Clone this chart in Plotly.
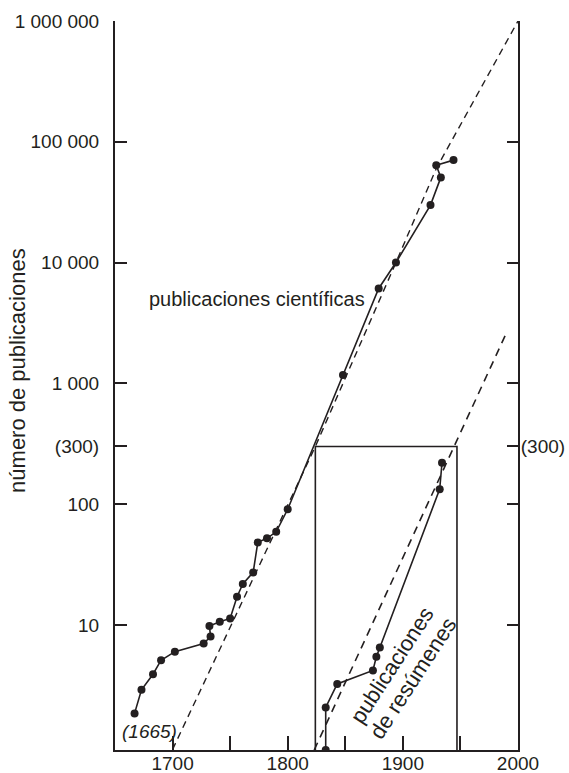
import plotly.graph_objects as go

# --- data ---
sci_years = [1667, 1673, 1683, 1690, 1702, 1727, 1733, 1732, 1741, 1750, 1756, 1761, 1770,
             1774, 1782, 1790, 1800, 1848, 1879, 1894, 1924, 1933, 1929, 1944]
sci_vals = [1.85, 2.9, 3.9, 5.1, 6.0, 7.0, 8.0, 9.8, 10.6, 11.3, 17.1, 21.8, 27.2,
            48.2, 52.1, 59.0, 90.6, 1170, 6100, 10000, 29900, 50700, 64000, 70500]

abs_years = [1833, 1833, 1843, 1874, 1877, 1880, 1932, 1934]
abs_vals = [0.92, 2.07, 3.24, 4.2, 5.45, 6.5, 133, 220]

trend_sci_years = [1700, 1824, 1894, 1929, 2000]
trend_sci_vals = [0.93, 300, 10000, 60000, 1000000]
trend_abs_years = [1823, 1989]
trend_abs_vals = [0.92, 2500]

box_years = [1824, 1947]
box_top = 300
y_floor = 0.92

x_tickvals = [1700, 1750, 1800, 1850, 1900, 1950, 2000]
x_ticktext = ["1700", "", "1800", "", "1900", "", "2000"]
y_tickvals = [10, 100, 300, 1000, 10000, 100000, 1000000]
y_ticktext = ["10", "100", "(300)", "1 000", "10 000", "100 000", "1 000 000"]
y2_ticktext = ["", "", "(300)", "", "", "", ""]

FONT = "Liberation Sans, Arial, Helvetica, sans-serif"
INK = "#231f20"

fig = go.Figure()

# rectangle (inset)
fig.add_trace(go.Scatter(
    x=[box_years[0], box_years[0], box_years[1], box_years[1]],
    y=[y_floor, box_top, box_top, y_floor],
    mode="lines", line=dict(color=INK, width=1.6), hoverinfo="skip"))

# trend lines
fig.add_trace(go.Scatter(x=trend_sci_years, y=trend_sci_vals, mode="lines",
                         line=dict(color=INK, width=1.4, dash="7px,5px"), hoverinfo="skip"))
fig.add_trace(go.Scatter(x=trend_abs_years, y=trend_abs_vals, mode="lines",
                         line=dict(color=INK, width=1.6, dash="8px,6px"), hoverinfo="skip"))

# data series
fig.add_trace(go.Scatter(x=sci_years, y=sci_vals, mode="lines+markers",
                         line=dict(color=INK, width=1.6),
                         marker=dict(color=INK, size=8)))
fig.add_trace(go.Scatter(x=abs_years, y=abs_vals, mode="lines+markers",
                         line=dict(color=INK, width=1.6),
                         marker=dict(color=INK, size=8)))

# dummy trace to activate the right axis
fig.add_trace(go.Scatter(x=[1800], y=[10], yaxis="y2", mode="markers",
                         marker=dict(opacity=0), hoverinfo="skip"))

fig.update_layout(
    width=569, height=773,
    margin=dict(l=115, r=51, t=21, b=23),
    paper_bgcolor="white", plot_bgcolor="white",
    showlegend=False,
    font=dict(family=FONT, size=19, color=INK),
    xaxis=dict(range=[1650, 2000], showgrid=False, zeroline=False, automargin=False,
               showline=True, linecolor=INK, linewidth=2,
               ticks="inside", ticklen=14, tickwidth=1.6, tickcolor=INK,
               tickvals=x_tickvals, ticktext=x_ticktext,
               tickfont=dict(size=19, family=FONT, color=INK), ticklabelstandoff=-5),
    yaxis=dict(type="log", range=[-0.036, 6], showgrid=False, zeroline=False, automargin=False,
               showline=True, linecolor=INK, linewidth=2,
               ticks="inside", ticklen=12, tickwidth=1.6, tickcolor=INK,
               tickvals=y_tickvals, ticktext=y_ticktext,
               tickfont=dict(size=19, family=FONT, color=INK), ticklabelstandoff=10),
    yaxis2=dict(type="log", range=[-0.036, 6], overlaying="y", side="right",
                showgrid=False, zeroline=False, automargin=False,
                showline=True, linecolor=INK, linewidth=2,
                ticks="inside", ticklen=11, tickwidth=1.6, tickcolor=INK,
                tickvals=y_tickvals, ticktext=y2_ticktext,
                tickfont=dict(size=19, family=FONT, color=INK), ticklabelstandoff=-3),
    annotations=[
        dict(x=0, y=0.52, xref="paper", yref="paper", xanchor="center", yanchor="middle",
             xshift=-97, text="número de publicaciones", showarrow=False, textangle=-90,
             font=dict(size=22, family=FONT, color=INK)),
        dict(x=1773, y=3.70, xref="x", yref="y", yanchor="middle", xanchor="center",
             text="publicaciones científicas", showarrow=False,
             font=dict(size=20, family=FONT, color=INK)),
        dict(x=1680, y=0.12, xref="x", yref="y", xanchor="center", yanchor="middle",
             text="<i>(1665)</i>", showarrow=False,
             font=dict(size=19, family=FONT, color=INK)),
        dict(x=1890.6, y=0.66, xref="x", yref="y", xanchor="center", yanchor="middle",
             text="publicaciones", showarrow=False, textangle=-57,
             font=dict(size=22, family=FONT, color=INK)),
        dict(x=1908.4, y=0.56, xref="x", yref="y", xanchor="center", yanchor="middle",
             text="de resúmenes", showarrow=False, textangle=-57,
             font=dict(size=22, family=FONT, color=INK)),
    ],
)

fig.write_html("out.html")
